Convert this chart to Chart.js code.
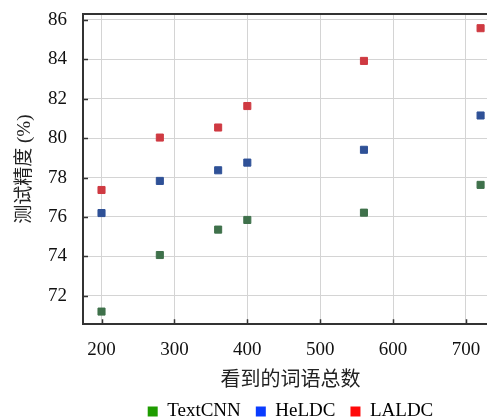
<!DOCTYPE html>
<html lang="zh">
<head>
  <meta charset="UTF-8" />
  <title>测试精度</title>
  <script src="https://cdn.jsdelivr.net/npm/chart.js"></script>
  <style>
    html, body { margin: 0; padding: 0; background: #fff; overflow: hidden; }
  </style>
</head>
<body>
  <!-- the original figure is cropped on the right, so the canvas runs a bit past the window -->
  <canvas id="accChart" width="504" height="419"></canvas>

  <script>
    const wordCounts = [200, 280, 360, 400, 560, 720];
    const textCnn = [71.2, 74.07, 75.36, 75.85, 76.22, 77.63];
    const heLdc = [76.2, 77.83, 78.37, 78.76, 79.41, 81.15];
    const laLdc = [77.37, 80.03, 80.54, 81.63, 83.92, 85.58];

    const seriesNames = ["TextCNN", "HeLDC", "LALDC"];
    const xTicks = [200, 300, 400, 500, 600, 700];
    const yTicks = [72, 74, 76, 78, 80, 82, 84, 86];

    const markerColors = ["#3f714b", "#2f5197", "#cf3a42"];
    const legendColors = ["#1e9c00", "#0a3cff", "#ff0a0a"];

    const serif = "'Times New Roman', 'Liberation Serif', 'Noto Sans CJK SC', serif";

    const toPoints = ys => wordCounts.map((x, i) => ({ x: x, y: ys[i] }));

    // top frame line + short inward ticks, like the original plot
    const framePlugin = {
      id: "frame",
      afterDraw(chart) {
        const { ctx, chartArea: a, scales } = chart;
        ctx.save();
        ctx.strokeStyle = "#333";
        ctx.lineWidth = 2;
        ctx.beginPath();
        ctx.moveTo(a.left - 1, a.top);
        ctx.lineTo(a.right, a.top);
        ctx.stroke();
        ctx.lineWidth = 1.5;
        ctx.beginPath();
        xTicks.forEach(v => {
          const px = Math.round(scales.x.getPixelForValue(v)) + 0.5;
          ctx.moveTo(px, a.bottom);
          ctx.lineTo(px, a.bottom - 5);
        });
        yTicks.forEach(v => {
          const py = Math.round(scales.y.getPixelForValue(v)) + 0.5;
          ctx.moveTo(a.left, py);
          ctx.lineTo(a.left + 5, py);
        });
        ctx.stroke();
        ctx.restore();
      }
    };

    new Chart(document.getElementById("accChart"), {
      type: "scatter",
      data: {
        datasets: [textCnn, heLdc, laLdc].map((ys, i) => ({
          label: seriesNames[i],
          data: toPoints(ys),
          pointStyle: "rect",
          pointRadius: 5,
          pointHoverRadius: 5,
          backgroundColor: markerColors[i],
          borderColor: markerColors[i],
          borderWidth: 1
        }))
      },
      options: {
        responsive: false,
        animation: false,
        layout: { padding: { top: 14, right: 0, left: 0, bottom: -12 } },
        plugins: {
          tooltip: { enabled: false },
          legend: {
            position: "bottom",
            fullSize: false,
            labels: {
              font: { family: serif, size: 19 },
              color: "#111",
              boxWidth: 10,
              boxHeight: 10,
              padding: 15,
              generateLabels: chart => chart.data.datasets.map((ds, i) => ({
                text: ds.label,
                fillStyle: legendColors[i],
                strokeStyle: legendColors[i],
                lineWidth: 0,
                datasetIndex: i
              }))
            }
          }
        },
        scales: {
          x: {
            type: "linear",
            min: 174.6,
            max: 743.9,
            afterBuildTicks: s => { s.ticks = xTicks.map(v => ({ value: v })); },
            afterFit: s => { s.paddingLeft = 0; s.paddingRight = 0; },
            ticks: {
              font: { family: serif, size: 19 },
              color: "#111",
              padding: 14,
              maxRotation: 0
            },
            grid: { color: "#d4d4d4", lineWidth: 1, drawTicks: false },
            border: { color: "#333", width: 2 },
            title: {
              display: true,
              text: "看到的词语总数",
              font: { family: serif, size: 20 },
              color: "#222",
              padding: { top: -6, bottom: -6 }
            }
          },
          y: {
            min: 70.56,
            max: 86.3,
            afterBuildTicks: s => { s.ticks = yTicks.map(v => ({ value: v })); },
            afterFit: s => { s.width = 83; s.paddingTop = 0; s.paddingBottom = 0; },
            ticks: {
              font: { family: serif, size: 19 },
              color: "#111",
              padding: 16
            },
            grid: { color: "#d4d4d4", lineWidth: 1, drawTicks: false },
            border: { color: "#333", width: 2 },
            title: {
              display: true,
              text: "测试精度 (%)",
              font: { family: serif, size: 19 },
              color: "#222",
              padding: { top: 14, bottom: 0 }
            }
          }
        }
      },
      plugins: [framePlugin]
    });
  </script>
</body>
</html>
